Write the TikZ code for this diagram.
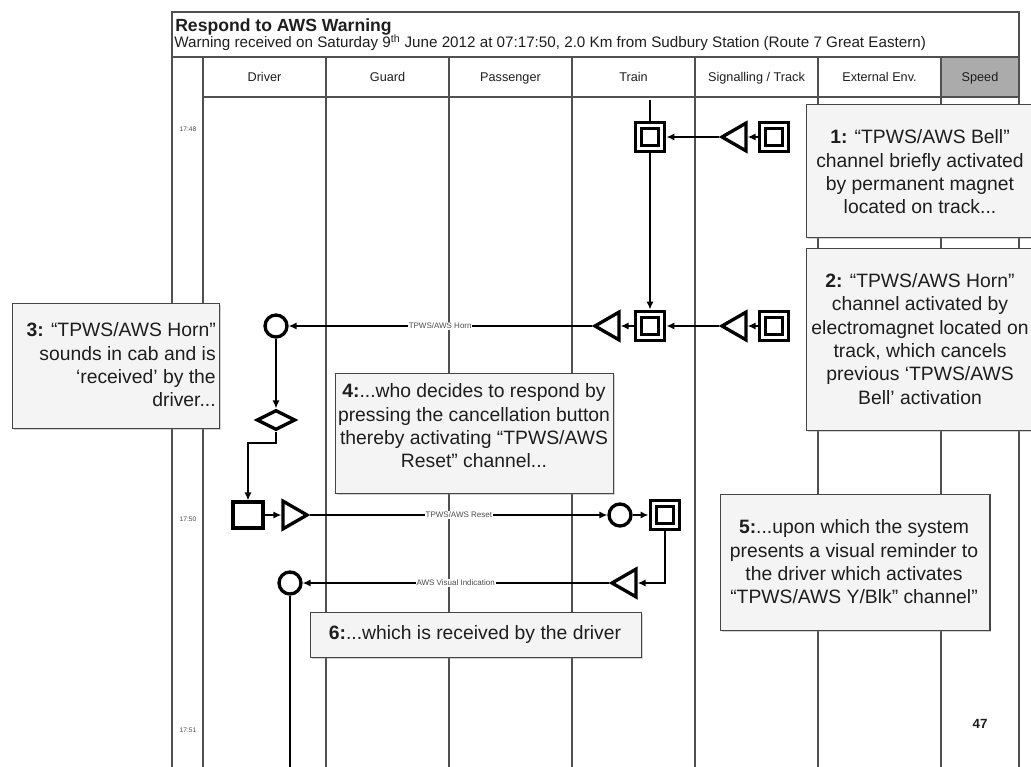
\documentclass[tikz,border=0pt]{standalone}
\usepackage{fontspec}
\setmainfont{Liberation Sans}
\usetikzlibrary{shapes.geometric,arrows.meta,shadows}
\definecolor{gridc}{HTML}{505050}
\definecolor{boxfill}{HTML}{F4F4F4}
\definecolor{boxdraw}{HTML}{454545}
\definecolor{speedc}{HTML}{ABABAB}
\definecolor{txt}{HTML}{1E1E1E}
\begin{document}
\begin{tikzpicture}[x=0.75pt,y=-0.75pt,
  grid/.style={draw=gridc, line width=1.1pt},
  sym/.style={draw=black, line width=2.5pt, inner sep=0pt},
  dsq/.style={sym, rectangle, double, double distance=2.4pt, line width=2.4pt, minimum size=17.5pt, outer sep=3.6pt},
  circ/.style={sym, circle, minimum size=16.5pt},
  tril/.style={sym, regular polygon, regular polygon sides=3, shape border rotate=90, minimum size=24pt},
  trir/.style={sym, regular polygon, regular polygon sides=3, shape border rotate=-90, minimum size=24pt},
  dec/.style={sym, diamond, minimum width=29pt, minimum height=15pt},
  act/.style={sym, rectangle, minimum width=22.5pt, minimum height=19.5pt},
  conn/.style={line width=2.1pt, -{Latex[length=6pt,width=5.5pt]}},
  plain/.style={line width=2.1pt},
  chlabel/.style={fill=white, inner sep=0.6pt, font=\fontsize{6}{6}\selectfont, text=black!70},
  callout/.style={draw=boxdraw, fill=boxfill, line width=1.1pt, inner sep=0pt,
    drop shadow={shadow xshift=0.9pt, shadow yshift=-0.9pt, opacity=0.35}},
  ctext/.style={font=\fontsize{14.5}{17.5}\selectfont, text=txt, inner sep=0pt},
  hdr/.style={font=\fontsize{9.5}{11}\selectfont, text=txt, anchor=base},
  tlabel/.style={font=\fontsize{5}{6}\selectfont, text=black!70},
]
\useasboundingbox (0,0) rectangle (1031,767);
% ---------- frame and swimlanes ----------
\fill[speedc] (941,57) rectangle (1019,97);
\draw[grid] (172,12) rectangle (1019,800);
\draw[grid] (172,57) -- (1019,57);
\draw[grid] (203,97) -- (1019,97);
\foreach \xx in {203,326,449,572,695,818,941} \draw[grid] (\xx,57) -- (\xx,800);
\node[anchor=base west, inner sep=0pt, font=\fontsize{13.2}{15}\selectfont\bfseries, text=txt] (title) at (175,31.5) {Respond to AWS Warning};
\node[anchor=base west, inner sep=0pt, font=\fontsize{11.4}{13}\selectfont, text=txt] (subtitle) at (174,48) {Warning received on Saturday 9\textsuperscript{th} June 2012 at 07:17:50, 2.0 Km from Sudbury Station (Route 7 Great Eastern)};
\node[hdr] (hDriver) at (264.5,81) {Driver};
\node[hdr] (hGuard) at (387.5,81) {Guard};
\node[hdr] (hPass) at (510.5,81) {Passenger};
\node[hdr] (hTrain) at (633.5,81) {Train};
\node[hdr] (hSig) at (756.5,81) {Signalling / Track};
\node[hdr] (hExt) at (879.5,81) {External Env.};
\node[hdr] (hSpeed) at (980,81) {Speed};
\node[tlabel] (t48) at (188,129) {17:48};
\node[tlabel] (t50) at (188,519) {17:50};
\node[tlabel] (t51) at (188,730) {17:51};
% ---------- symbols ----------
\coordinate (traintop) at (650,100);
\node[dsq] (ds1) at (650,137) {};
\node[dsq] (sig1) at (774,137) {};
\node[tril] (tri1) at (738,137) {};
\node[dsq] (ds2) at (650,326) {};
\node[dsq] (sig2) at (774,326) {};
\node[tril] (tri2) at (738,326) {};
\node[tril] (tri3) at (611,326) {};
\node[circ] (c1) at (276,326) {};
\node[dec] (d1) at (276,420) {};
\coordinate (bend) at (248,443);
\node[act] (a1) at (248,515) {};
\node[trir] (tri4) at (291,515) {};
\node[circ] (c2) at (620,515) {};
\node[dsq] (ds3) at (665,515) {};
\node[tril] (tri5) at (628,583) {};
\node[circ] (c3) at (290,583) {};
\coordinate (bottom) at (290,800);
% ---------- connectors ----------
\draw[plain] (traintop) -- (ds1);
\draw[conn] (ds1) -- (ds2);
\draw[conn] (sig1) -- (tri1);
\draw[conn] (tri1) -- (ds1);
\draw[conn] (sig2) -- (tri2);
\draw[conn] (tri2) -- (ds2);
\draw[conn] (ds2) -- (tri3);
\draw[conn] (tri3) -- node[chlabel] {TPWS/AWS Horn} (c1);
\draw[conn] (c1) -- (d1);
\draw[conn] (d1.south) |- (bend) -- (a1);
\draw[conn] (a1) -- (tri4);
\draw[conn] (tri4) -- node[chlabel] {TPWS/AWS Reset} (c2);
\draw[conn] (c2) -- (ds3);
\draw[conn] (ds3) |- (tri5);
\draw[conn] (tri5) -- node[chlabel] {AWS Visual Indication} (c3);
\draw[plain] (c3) -- (bottom);
% ---------- callouts ----------
\node[callout, anchor=north west, minimum width=175.5pt, minimum height=99.75pt] (b1) at (806,104) {};
\node[ctext, align=center] (tx1) at (920,172) {\textbf{1:} “TPWS/AWS Bell”\\channel briefly activated\\by permanent magnet\\located on track...};
\node[callout, anchor=north west, minimum width=175.5pt, minimum height=136.5pt] (b2) at (806,248) {};
\node[ctext, align=center] (tx2) at (920,339) {\textbf{2:} “TPWS/AWS Horn”\\channel activated by\\electromagnet located on\\track, which cancels\\previous ‘TPWS/AWS\\Bell’ activation};
\node[callout, anchor=north west, minimum width=155.25pt, minimum height=93.75pt] (b3) at (12,303) {};
\node[ctext, align=right, anchor=east] (tx3) at (216,365) {\textbf{3:} “TPWS/AWS Horn”\\sounds in cab and is\\‘received’ by the\\driver...};
\node[callout, anchor=north west, minimum width=208.5pt, minimum height=90pt] (b4) at (335,373) {};
\node[ctext, align=center] (tx4) at (474,426) {\textbf{4:}...who decides to respond by\\pressing the cancellation button\\thereby activating “TPWS/AWS\\Reset” channel...};
\node[callout, anchor=north west, minimum width=202pt, minimum height=102pt] (b5) at (720,494) {};
\node[ctext, align=center] (tx5) at (854,562) {\textbf{5:}...upon which the system\\presents a visual reminder to\\the driver which activates\\“TPWS/AWS Y/Blk” channel”};
\node[callout, anchor=north west, minimum width=248pt, minimum height=33.75pt] (b6) at (310,612) {};
\node[ctext] (tx6) at (475,634) {\textbf{6:}...which is received by the driver};
\node[font=\fontsize{10}{12}\selectfont\bfseries, text=txt] (pg) at (980,724) {47};
\end{tikzpicture}
\end{document}
